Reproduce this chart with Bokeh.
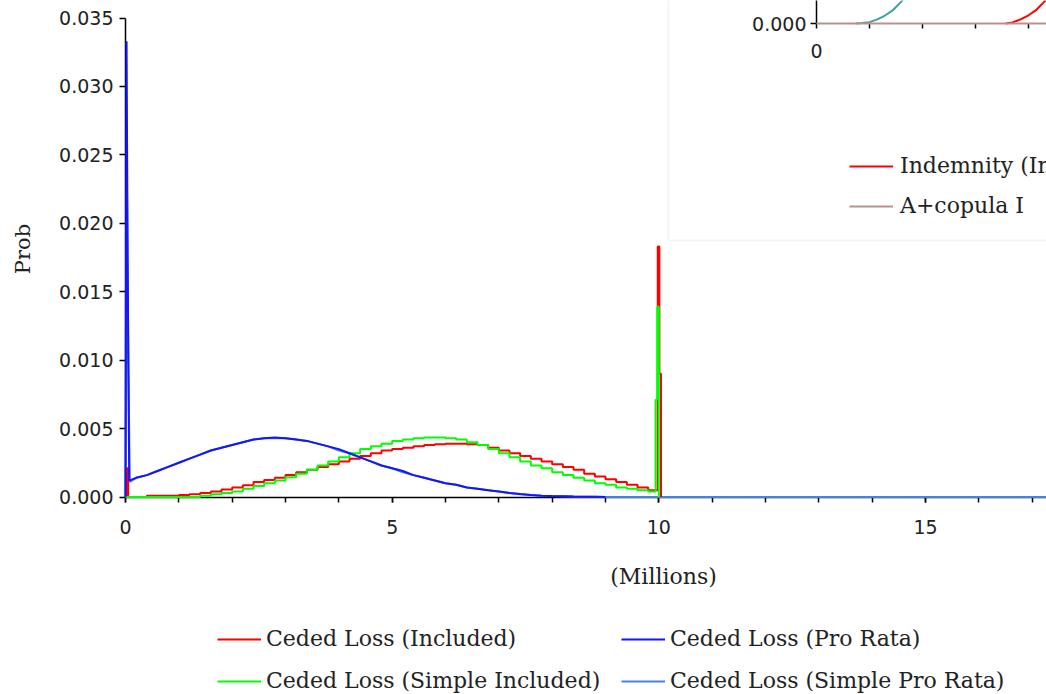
from bokeh.plotting import figure
from bokeh.layouts import column
from bokeh.models import (Range1d, SingleIntervalTicker, NumeralTickFormatter,
                          Legend, LegendItem, Label, BoxAnnotation)
from bokeh.embed import file_html
from bokeh.resources import INLINE

# ---------------- data ----------------
GRID = [round(0.2 * i, 1) for i in range(50)]          # bin starts 0.0 .. 9.8 (millions)

included = [0.0, 0.0, 0.0001, 0.0001, 0.0001, 0.00015, 0.0002, 0.0003, 0.0004, 0.00055,
            0.0007, 0.00085, 0.0011, 0.00125, 0.0014, 0.0016, 0.0018, 0.002, 0.0022, 0.0024,
            0.0026, 0.0028, 0.003, 0.0032, 0.0034, 0.0035, 0.0036, 0.0037, 0.0038, 0.00385,
            0.0039, 0.0039, 0.00385, 0.0038, 0.0036, 0.0034, 0.0032, 0.003, 0.0028, 0.0026,
            0.0024, 0.0022, 0.002, 0.0017, 0.0015, 0.0013, 0.0011, 0.0009, 0.0007, 0.0005]
included_start_x = [0.0, 0.02, 0.05]
included_start_y = [0.0, 0.0021, 0.0]
included_end_x = [9.98, 10.01, 10.04]
included_end_y = [0.0183, 0.009, 0.0]

simple_included = [0.0, 0.0, 0.0, 0.0, 0.0, 0.0, 0.0, 0.0001, 0.0002, 0.0003,
                   0.0004, 0.0006, 0.0008, 0.001, 0.0012, 0.00145, 0.0017, 0.002, 0.0023, 0.0026,
                   0.0029, 0.0032, 0.0035, 0.0037, 0.0039, 0.0041, 0.0042, 0.0043, 0.00435, 0.00435,
                   0.0043, 0.0042, 0.004, 0.0038, 0.0035, 0.0032, 0.0029, 0.0026, 0.0023, 0.0021,
                   0.0018, 0.0016, 0.0014, 0.0012, 0.001, 0.0009, 0.0007, 0.0006, 0.0005, 0.0004]
simple_included_end_x = [9.94, 9.97, 10.0]
simple_included_end_y = [0.0071, 0.0139, 0.0]

# points 0.2 .. 8.8
pro_rata = [0.0014, 0.0016, 0.0019, 0.0022, 0.0025, 0.0028, 0.0031, 0.0034, 0.0036, 0.0038,
            0.004, 0.0042, 0.0043, 0.00435, 0.0043, 0.0042, 0.0041, 0.0039, 0.0037, 0.0035,
            0.0032, 0.0029, 0.0026, 0.0023, 0.0021, 0.0019, 0.0016, 0.0014, 0.0012, 0.001,
            0.0009, 0.0007, 0.0006, 0.0005, 0.0004, 0.0003, 0.00022, 0.00015, 0.0001, 0.00007,
            0.00005, 0.00003, 0.00002, 0.00001]
pro_rata_start_x = [0.0, 0.02, 0.04, 0.07]
pro_rata_start_y = [0.0, 0.0333, 0.0174, 0.0012]
pro_rata_end_x = [9.0]
pro_rata_end_y = [0.0]

simple_pro_rata = [0.0014, 0.0016, 0.0019, 0.0022, 0.0025, 0.0028, 0.0031, 0.0034, 0.0036, 0.0038,
                   0.004, 0.0042, 0.0043, 0.0043, 0.0043, 0.0042, 0.0041, 0.0039, 0.0037, 0.0034,
                   0.0032, 0.0029, 0.0026, 0.0023, 0.0021, 0.0018, 0.0016, 0.0014, 0.0012, 0.001,
                   0.0009, 0.0007, 0.0006, 0.0005, 0.0004, 0.0003, 0.0002, 0.00015, 0.0001, 0.00007,
                   0.00005, 0.00003, 0.00002, 0.00001]
simple_pro_rata_start_x = [0.0, 0.03, 0.05, 0.08]
simple_pro_rata_start_y = [0.0, 0.0218, 0.0112, 0.0011]
simple_pro_rata_end_x = [9.0, 17.5]
simple_pro_rata_end_y = [0.0, 0.0]

series_names = ["Ceded Loss (Included)", "Ceded Loss (Pro Rata)",
                "Ceded Loss (Simple Included)", "Ceded Loss (Simple Pro Rata)"]
series_colors = ["#ff0000", "#1414ff", "#00ff00", "#4385dc"]
series_stepped = [True, False, True, False]

# inset (partially visible second chart)
inset_teal_x = [0.74, 0.85, 1.0, 1.15, 1.3, 1.45, 1.6, 1.75]
inset_teal_y = [0.0, 0.00003, 0.0001, 0.0003, 0.0006, 0.001, 0.0016, 0.0024]
inset_indemnity_x = [3.57, 3.7, 3.85, 4.0, 4.15, 4.3, 4.45]
inset_indemnity_y = [0.0, 0.00008, 0.0003, 0.0006, 0.001, 0.0016, 0.0024]
inset_copula_x = [0.0, 6.0]
inset_copula_y = [0.0, 0.0]
inset_xticks = [0, 1, 2, 3, 4]
inset_names = ["Indemnity (Included)", "A+copula I"]

# ---------------- layout constants ----------------
W, H = 1046, 694
MAIN_H = 550
FRAME_L, FRAME_B = 125, 497
Y0_PX = 496.5                       # pixel row of y = 0
PX_PER_X = 266.67 / 5
PX_PER_Y = (497 - 18) / 0.035
INSET_OX, INSET_OY = 816, 23        # pixel of the inset origin
INSET_PX_PER_X = 53.0

SANS = "DejaVu Sans"
SERIF = "DejaVu Serif"
TXT = "#222222"

p = figure(width=W, height=MAIN_H,
           x_range=Range1d(0, (W - FRAME_L) / PX_PER_X),
           y_range=Range1d(-(FRAME_B - Y0_PX) / PX_PER_Y, Y0_PX / PX_PER_Y),
           output_backend="svg", toolbar_location=None,
           min_border_left=FRAME_L, min_border_right=0, min_border_top=0,
           min_border_bottom=MAIN_H - FRAME_B)
p.outline_line_color = None
p.xgrid.visible = False
p.ygrid.visible = False
p.background_fill_color = "white"
p.border_fill_color = "white"

p.extra_x_ranges = {"ix": Range1d((FRAME_L - INSET_OX) / INSET_PX_PER_X, (W - INSET_OX) / INSET_PX_PER_X)}
p.extra_y_ranges = {"iy": Range1d((INSET_OY - FRAME_B) / PX_PER_Y, INSET_OY / PX_PER_Y)}

# ---------------- axes ----------------
xa = p.xaxis[0]
xa.ticker = SingleIntervalTicker(interval=5, num_minor_ticks=5)
xa.major_tick_out = 5
xa.major_tick_in = 0
xa.minor_tick_out = 5
xa.minor_tick_in = 0
xa.major_label_standoff = 17
ya = p.yaxis[0]
ya.ticker = SingleIntervalTicker(interval=0.005, num_minor_ticks=0)
ya.formatter = NumeralTickFormatter(format="0.000")
ya.bounds = (0, 0.035)
ya.major_tick_out = 6
ya.major_tick_in = 0
ya.minor_tick_out = 0
ya.minor_tick_in = 0
ya.major_label_standoff = 6
ya.axis_label = "Prob"
ya.axis_label_standoff = 21
ya.axis_label_text_font = SERIF
ya.axis_label_text_font_size = "21px"
ya.axis_label_text_font_style = "normal"
ya.axis_label_text_color = TXT
for ax in (xa, ya):
    ax.axis_line_color = "black"
    ax.axis_line_width = 1.5
    ax.major_tick_line_color = "black"
    ax.major_tick_line_width = 1.5
    ax.minor_tick_line_color = "black"
    ax.minor_tick_line_width = 1.5
    ax.major_label_text_font = SANS
    ax.major_label_text_font_size = "19px"
    ax.major_label_text_color = TXT

# ---------------- series ----------------
series_x = {
    0: included_start_x + GRID[1:] + included_end_x,
    1: pro_rata_start_x + GRID[1:45] + pro_rata_end_x,
    2: GRID + simple_included_end_x,
    3: simple_pro_rata_start_x + GRID[1:45] + simple_pro_rata_end_x,
}
series_y = {
    0: included_start_y + included[1:] + included_end_y,
    1: pro_rata_start_y + pro_rata + pro_rata_end_y,
    2: simple_included + simple_included_end_y,
    3: simple_pro_rata_start_y + simple_pro_rata + simple_pro_rata_end_y,
}


def draw(fig, i, **kw):
    if series_stepped[i]:
        return fig.step(series_x[i], series_y[i], mode="after", line_color=series_colors[i],
                        line_width=2, **kw)
    return fig.line(series_x[i], series_y[i], line_color=series_colors[i], line_width=2, **kw)


for i in (3, 0, 2, 1):      # drawing order: light blue underneath, blue on top
    draw(p, i, level="overlay")

# ---------------- inset chart (top right, cut off) ----------------
inset_box = BoxAnnotation(left=(668 - INSET_OX) / INSET_PX_PER_X, right=50,
                          bottom=(INSET_OY - 240) / PX_PER_Y, top=1.0,
                          x_range_name="ix", y_range_name="iy",
                          fill_color="white", fill_alpha=1.0,
                          line_color="#dcdcdc", line_width=2, level="underlay")
p.add_layout(inset_box)

ik = dict(x_range_name="ix", y_range_name="iy")
p.segment(x0=[0], y0=[0], x1=[0], y1=[1.0], line_color="black", line_width=1.5, **ik)
p.segment(x0=[0], y0=[0], x1=[-6 / INSET_PX_PER_X], y1=[0], line_color="black", line_width=1.5, **ik)
p.segment(x0=inset_xticks, y0=[0] * len(inset_xticks), x1=inset_xticks,
          y1=[-5 / PX_PER_Y] * len(inset_xticks), line_color="black", line_width=1.5, **ik)
p.line(inset_teal_x, inset_teal_y, line_color="#40a0a0", line_width=2, **ik)
r_ind = p.line(inset_indemnity_x, inset_indemnity_y, line_color="#ff0000", line_width=2, **ik)
r_cop = p.line(inset_copula_x, inset_copula_y, line_color="#bc8f8f", line_width=2, **ik)
p.text(x=[0], y=[0], text=["0.000"], x_offset=-10, text_align="right", text_baseline="middle",
       text_font={"value": SANS}, text_font_size="19px", text_color=TXT, **ik)
p.text(x=[0], y=[0], text=["0"], y_offset=27, text_align="center", text_baseline="middle",
       text_font={"value": SANS}, text_font_size="19px", text_color=TXT, **ik)

inset_legend = Legend(items=[LegendItem(label=inset_names[0], renderers=[r_ind]),
                             LegendItem(label=inset_names[1], renderers=[r_cop])],
                      orientation="vertical",
                      location=(849 - FRAME_L, FRAME_B - 218),
                      glyph_width=44, glyph_height=20, label_height=20,
                      label_standoff=7, spacing=15, padding=0, margin=0,
                      border_line_color=None, background_fill_alpha=0,
                      label_text_font=SERIF, label_text_font_size="22px", label_text_color=TXT)
p.add_layout(inset_legend)

# ---------------- lower strip: x-axis caption and legend ----------------
LOW_H = H - MAIN_H
q = figure(width=W, height=LOW_H, x_range=Range1d(FRAME_L, W), y_range=Range1d(0, LOW_H),
           output_backend="svg", toolbar_location=None,
           x_axis_location=None, y_axis_location=None,
           min_border_left=FRAME_L, min_border_right=0, min_border_top=0, min_border_bottom=0)
q.outline_line_color = None
q.grid.visible = False
q.background_fill_color = "white"
q.border_fill_color = "white"
q.extra_y_ranges = {"hidden": Range1d(1, 2)}   # keeps the legend keys' own lines out of view

q.add_layout(Label(x=663, y=LOW_H - (576 - MAIN_H), text="(Millions)",
                   text_align="center", text_baseline="middle",
                   text_font=SERIF, text_font_size="22px", text_color=TXT))

keys = {i: draw(q, i, y_range_name="hidden") for i in range(4)}

legend = Legend(items=[LegendItem(label=series_names[0], renderers=[keys[0]]),
                       LegendItem(label=series_names[2], renderers=[keys[2]]),
                       LegendItem(label=series_names[1], renderers=[keys[1]]),
                       LegendItem(label=series_names[3], renderers=[keys[3]])],
                orientation="vertical", ncols=2,
                location=(217 - FRAME_L, 1),
                glyph_width=44, glyph_height=20, label_height=20, label_width=338,
                label_standoff=5, spacing=17, padding=0, margin=0,
                border_line_color=None, background_fill_alpha=0,
                label_text_font=SERIF, label_text_font_size="22px", label_text_color=TXT)
q.add_layout(legend)

layout = column(p, q, spacing=0)
open("out.html", "w").write(file_html(layout, INLINE))
